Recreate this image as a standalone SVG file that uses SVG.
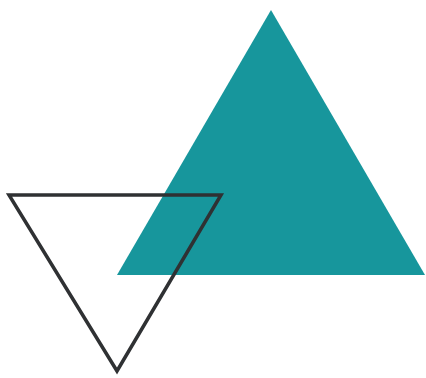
<svg xmlns="http://www.w3.org/2000/svg" width="426" height="378" viewBox="0 0 426 378">
<style>
.fill{fill:#17969c;stroke:none}
.outline{fill:none;stroke:#2f3133;stroke-width:3.5;stroke-linejoin:miter}
</style>
<rect width="426" height="378" fill="#ffffff"/>
<g id="teal-triangle"><polygon class="fill" points="271,10 425,275 117,275"/></g>
<g id="outline-triangle"><polygon class="outline" points="9,195 221,195 117,371"/></g>
</svg>
